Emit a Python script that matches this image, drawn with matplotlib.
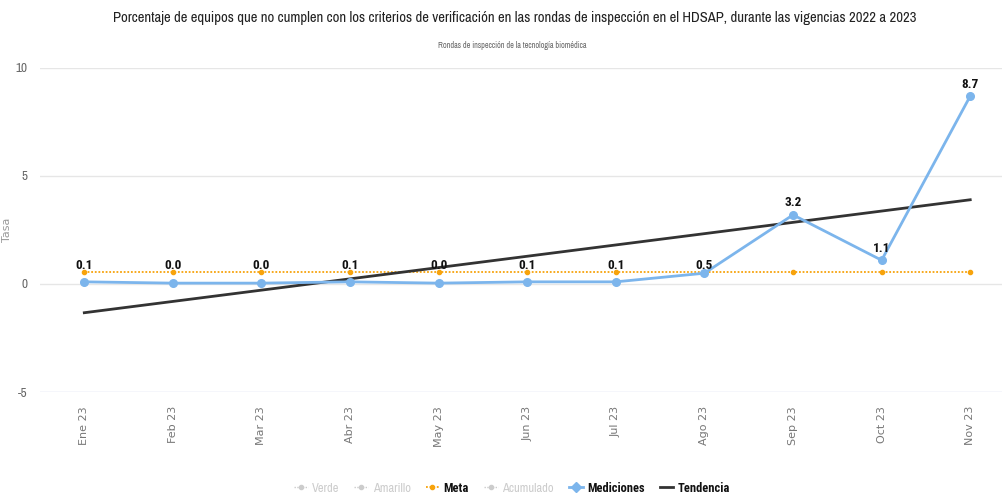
import matplotlib
matplotlib.use("Agg")
import matplotlib.pyplot as plt
from matplotlib.lines import Line2D
from matplotlib import font_manager

categorias = ["Ene 23", "Feb 23", "Mar 23", "Abr 23", "May 23", "Jun 23",
              "Jul 23", "Ago 23", "Sep 23", "Oct 23", "Nov 23"]
mediciones = [0.1, 0.04, 0.04, 0.1, 0.04, 0.1, 0.1, 0.5, 3.2, 1.1, 8.7]
etiquetas = ["0.1", "0.0", "0.0", "0.1", "0.0", "0.1", "0.1", "0.5", "3.2", "1.1", "8.7"]
meta = [0.55] * 11
tendencia_extremos = [-1.33, 3.9]
yticks = [-5, 0, 5, 10]

fl = font_manager.fontManager.ttflist
names = {f.name for f in fl}

def has_bold(n):
    for f in fl:
        if f.name == n and f.style == 'normal':
            try:
                if int(f.weight) >= 700:
                    return True
            except Exception:
                if str(f.weight) == 'bold':
                    return True
    return False

fam = "DejaVu Sans"
for cand in ["Archivo Narrow", "Roboto Condensed", "Asap Condensed", "Barlow Condensed"]:
    if cand in names:
        fam = cand
        break
famb = fam
for cand in ["Roboto Condensed", "Archivo Narrow", "Asap Condensed", "Barlow Semi Condensed", "Barlow Condensed"]:
    if cand in names and has_bold(cand):
        famb = cand
        break
plt.rcParams['font.family'] = [fam, 'DejaVu Sans']

fig = plt.figure(figsize=(10.03, 4.98), dpi=100)
ax = fig.add_axes([40/1003, (498-392)/498, (1003-40)/1003, (392-68)/498])

x = list(range(len(categorias)))
ax.set_xlim(-0.5, 10.37)
ax.set_ylim(-5, 10)

for t in yticks:
    ax.axhline(t, color="#e6e6e6" if t != -5 else "#ccd6eb", lw=1, zorder=0)

ax.plot(x, meta, color="#f7a30c", lw=1.3, ls=(0, (1, 1)), marker='o', ms=3, zorder=2)
ax.plot([x[0], x[-1]], tendencia_extremos, color="#333333", lw=2, zorder=3)
ax.plot(x, mediciones, color="#7cb5ec", lw=2, marker='o', ms=5.5, zorder=4)

for xi, v, lab in zip(x, mediciones, etiquetas):
    if v >= 0.55:
        ax.annotate(lab, (xi, v), xytext=(0, 4), textcoords="offset points",
                    ha="center", va="bottom", fontsize=9.5, fontweight="bold",
                    family=[famb, 'DejaVu Sans'], color="#111111", zorder=5)
    else:
        ax.annotate(lab, (xi, 0.55), xytext=(0, 0), textcoords="offset points",
                    ha="center", va="bottom", fontsize=9.5, fontweight="bold",
                    family=[famb, 'DejaVu Sans'], color="#111111", zorder=5)

for s in ax.spines.values():
    s.set_visible(False)
ax.set_yticks(yticks)
ax.set_yticklabels([str(t) for t in yticks], color="#666666", fontsize=9.5)
ax.set_xticks(x)
ax.set_xticklabels(categorias, rotation=90, color="#777777", fontsize=8, family="DejaVu Sans")
ax.tick_params(length=0, pad=10, axis='x')
ax.tick_params(length=0, pad=9, axis='y')
ax.set_ylabel("Tasa", color="#999999", fontsize=8, family="DejaVu Sans")
ax.yaxis.set_label_coords(-28/963, 0.5)

title = fig.text(515/1003, 1-18/498, "Porcentaje de equipos que no cumplen con los criterios de verificación en las rondas de inspección en el HDSAP, durante las vigencias 2022 a 2023",
                 ha="center", va="center", fontsize=13, color="#222222")
sub = fig.text(512/1003, 1-45/498, "Rondas de inspección de la tecnología biomédica",
               ha="center", va="center", fontsize=7, color="#666666")

fig.canvas.draw()
r = fig.canvas.get_renderer()
for t, target in [(title, 803), (sub, 149)]:
    w = t.get_window_extent(r).width
    t.set_fontsize(t.get_fontsize() * target / w)

faded = "#cccccc"
handles = [
    Line2D([], [], color=faded, lw=1, ls=(0, (1, 1)), marker='o', ms=3),
    Line2D([], [], color=faded, lw=1, ls=(0, (1, 1)), marker='o', ms=3),
    Line2D([], [], color="#f7a30c", lw=1.3, ls=(0, (1, 1)), marker='o', ms=3),
    Line2D([], [], color=faded, lw=1, ls=(0, (1, 1)), marker='o', ms=3),
    Line2D([], [], color="#7cb5ec", lw=2, marker='D', ms=5),
    Line2D([], [], color="#333333", lw=2),
]
labels = ["Verde", "Amarillo", "Meta", "Acumulado", "Mediciones", "Tendencia"]
leg = fig.legend(handles, labels, loc="center", bbox_to_anchor=(512/1003, 1-488/498), ncol=6,
                 frameon=False, fontsize=9, handlelength=1.1, handletextpad=0.35, columnspacing=1.2)
for txt, lab in zip(leg.get_texts(), labels):
    if lab in ("Verde", "Amarillo", "Acumulado"):
        txt.set_color(faded)
    else:
        txt.set_color("#111111")
        txt.set_fontweight("bold")
        txt.set_family([famb, 'DejaVu Sans'])

fig.savefig("out.png", dpi=100)
